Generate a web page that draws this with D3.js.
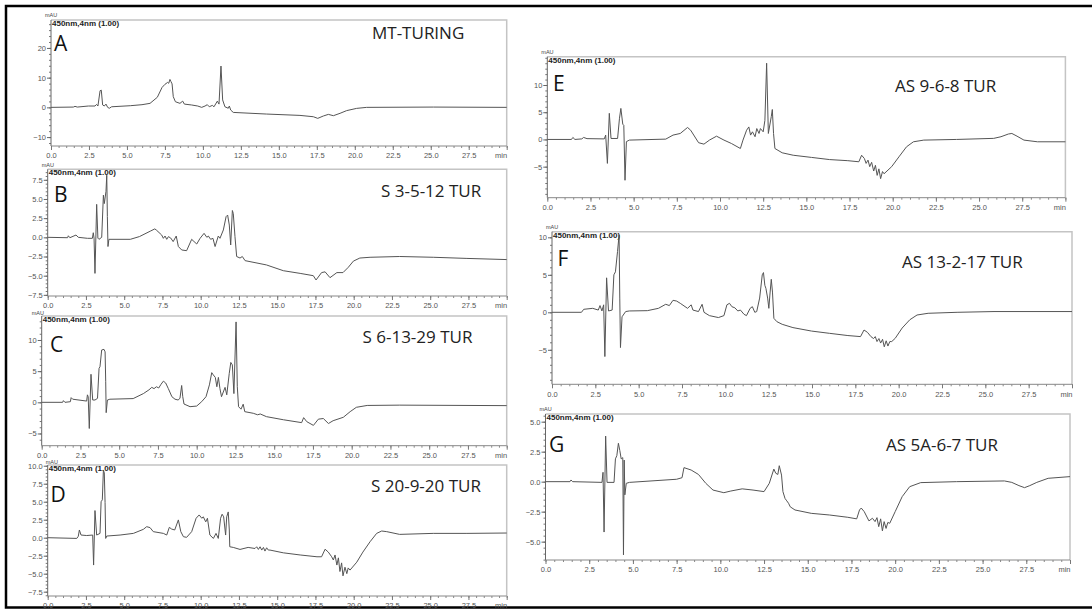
<!DOCTYPE html>
<html>
<head>
<meta charset="utf-8">
<script src="https://cdn.jsdelivr.net/npm/d3@7"></script>
<style>
  body { margin: 0; background: #fff; }
  svg { display: block; }
</style>
</head>
<body>
<div id="chart"></div>
<script>
// retention time (min), absorbance (mAU)
const traceA = [[0,0],[1.47,0.1],[1.58,0.34],[1.73,0.1],[2.46,0.45],[2.9,0.45],[3.0,1.0],[3.09,0.45],[3.23,5.6],[3.31,5.8],[3.4,0.8],[3.51,0.45],[3.62,1.1],[3.73,0],[3.84,-0.3],[3.99,0.2],[5.22,0.56],[5.99,0.9],[6.52,1.35],[7.0,3.4],[7.31,6.7],[7.5,7.75],[7.68,8.4],[7.75,8.1],[7.83,9.4],[7.9,8.65],[7.97,7.9],[8.05,3.6],[8.19,1.9],[8.49,1.35],[8.67,2.1],[8.78,1.1],[9.26,0.8],[9.66,0.45],[9.92,0],[10.14,0.45],[10.29,0.9],[10.42,0.2],[10.62,0.67],[10.73,0.2],[10.95,2.1],[11.06,1.1],[11.19,13.9],[11.3,2.5],[11.45,0.2],[11.67,-0.3],[11.74,0.45],[11.83,-0.9],[12.0,-1.7],[14.2,-2.25],[16.39,-2.7],[17.27,-3.15],[17.56,-3.7],[17.93,-2.9],[18.26,-2.36],[18.59,-2.8],[19.03,-2.0],[19.46,-1.1],[20.12,-0.34],[20.78,0],[25.17,0.1],[30,0]];

const traceB = [[0,0],[1.3,-0.05],[1.35,0.2],[1.45,-0.05],[1.85,0.3],[2.0,0.0],[2.6,-0.13],[2.92,-0.13],[2.98,0.6],[3.03,-0.1],[3.09,-4.7],[3.2,4.3],[3.28,-0.1],[3.35,-0.26],[3.53,0],[3.64,5.5],[3.7,4.4],[3.81,6.0],[3.86,8.1],[3.9,2.7],[3.94,-1.2],[4.0,-0.26],[5.4,-0.26],[6.0,0.1],[6.7,0.8],[7.0,1.1],[7.1,0.95],[7.45,0.3],[7.56,-0.13],[7.67,0.17],[7.78,-0.26],[7.89,0.09],[8.04,-0.09],[8.2,-0.56],[8.4,0.17],[8.54,-1.2],[8.76,-1.65],[9.08,-1.74],[9.41,-0.26],[9.5,-0.43],[9.74,-0.87],[9.96,-0.13],[10.22,0.52],[10.4,0],[10.5,0.17],[10.65,-0.26],[10.8,-0.13],[10.94,-1.2],[11.15,0.17],[11.26,-0.13],[11.48,0.96],[11.66,2.7],[11.76,2.9],[11.87,1.6],[11.96,-1.0],[12.07,3.5],[12.13,3.1],[12.24,0.1],[12.35,-2.5],[12.57,-2.7],[12.72,-2.5],[12.9,-3.04],[14.3,-3.6],[15.4,-4.35],[16.5,-4.7],[17.36,-5.0],[17.54,-5.56],[17.9,-4.6],[18.13,-4.5],[18.45,-5.26],[18.9,-4.6],[19.3,-4.6],[19.65,-3.9],[19.98,-3.1],[20.4,-2.7],[21.07,-2.6],[23.0,-2.5],[25.2,-2.6],[27.4,-2.75],[30,-2.9]];

const traceC = [[0,0],[1.35,0],[1.4,0.27],[1.5,0],[1.85,0.1],[1.9,0.75],[2.0,0.5],[2.9,0.2],[2.95,1.2],[3.0,0.9],[3.07,-4.2],[3.18,4.5],[3.29,0.37],[3.44,0.37],[3.6,0.64],[3.7,5.45],[3.76,5.7],[3.87,8.4],[4.02,8.5],[4.09,8.1],[4.13,3.3],[4.16,-1.66],[4.24,0.37],[4.4,0.5],[5.9,0.6],[6.56,1.4],[6.92,2.0],[7.1,2.4],[7.25,2.2],[7.4,2.5],[7.55,2.3],[7.7,2.9],[7.85,3.4],[8.0,3.1],[8.17,2.2],[8.4,0.9],[8.6,0.5],[8.8,0.37],[8.92,0.64],[9.03,2.7],[9.1,0.9],[9.18,-0.27],[9.57,-0.7],[10.0,-0.6],[10.32,0.1],[10.6,0.9],[10.82,2.8],[10.97,4.76],[11.07,4.4],[11.2,4.0],[11.3,2.5],[11.4,4.0],[11.5,2.2],[11.6,0.9],[11.83,2.4],[11.94,1.2],[12.1,4.65],[12.2,6.4],[12.3,6.0],[12.4,1.4],[12.54,12.9],[12.62,2.5],[12.7,-0.7],[12.86,-1.1],[13.0,-0.3],[13.1,-1.5],[13.65,-1.76],[13.93,-2.0],[14.1,-1.87],[14.5,-2.3],[15.6,-2.8],[16.77,-3.26],[16.9,-2.46],[17.1,-3.1],[17.53,-3.7],[17.85,-2.7],[18.17,-2.6],[18.5,-3.4],[18.8,-2.95],[19.46,-2.4],[19.9,-1.5],[20.3,-0.8],[21.0,-0.5],[23.1,-0.45],[30,-0.53]];

const traceD = [[0,0],[1.9,-0.1],[2.0,0.2],[2.07,1.07],[2.18,0.37],[2.55,0.3],[2.94,0.37],[3.0,-3.8],[3.09,3.77],[3.2,0.37],[3.42,0.6],[3.49,5.0],[3.57,5.26],[3.64,9.4],[3.7,9.0],[3.75,4.9],[3.79,-0.1],[3.86,0.23],[4.73,0.37],[5.6,0.6],[6.25,1.16],[6.47,1.53],[6.69,1.4],[6.9,0.84],[7.56,0.6],[7.78,0.37],[7.95,1.44],[8.1,1.2],[8.3,1.07],[8.54,2.47],[8.7,0.84],[8.87,0.14],[9.08,0.05],[9.41,0.84],[9.7,2.7],[9.9,3.16],[10.07,2.7],[10.17,2.9],[10.33,2.2],[10.44,2.7],[10.6,0.37],[10.83,-0.1],[11.0,0.6],[11.15,-0.1],[11.3,2.7],[11.4,3.26],[11.5,2.9],[11.63,0.37],[11.7,2.9],[11.8,3.58],[11.87,1.07],[11.9,-1.26],[12.13,-1.35],[12.57,-1.63],[13.1,-1.35],[13.55,-1.5],[13.66,-1.26],[13.77,-1.63],[13.88,-1.26],[13.99,-1.72],[14.1,-1.35],[14.2,-1.86],[14.31,-1.4],[14.42,-1.72],[14.53,-1.72],[15.4,-2.1],[16.5,-2.4],[17.6,-2.65],[17.9,-2.65],[18.13,-1.6],[18.34,-2.0],[18.56,-2.65],[18.67,-3.1],[18.78,-2.4],[18.9,-3.8],[19.0,-2.8],[19.1,-4.7],[19.21,-3.5],[19.3,-5.3],[19.43,-4.1],[19.55,-5.0],[19.64,-4.2],[19.76,-4.5],[20.2,-3.4],[20.6,-2.0],[21.07,-0.56],[21.5,0.6],[21.83,0.93],[22.16,0.84],[23.0,0.46],[25.2,0.6],[27.4,0.6],[30,0.65]];

const traceE = [[0,0],[1.4,0],[1.48,0.37],[1.6,0],[2.0,0.1],[2.1,0.37],[2.3,0.15],[3.3,0.1],[3.38,0.8],[3.48,-4.4],[3.59,4.8],[3.69,0.18],[4.07,0.18],[4.18,3.9],[4.26,5.7],[4.37,2.8],[4.43,2.6],[4.5,-7.5],[4.58,-0.4],[4.75,-0.12],[6.86,0.06],[7.28,0.8],[7.7,1.1],[8.12,2.2],[8.3,1.7],[8.76,-0.6],[9.07,-0.86],[9.39,-0.12],[9.8,0.6],[10.23,-0.12],[10.66,-0.74],[11.18,-1.66],[11.33,-0.12],[11.54,1.7],[11.67,2.3],[11.77,0.8],[11.88,1.4],[12.03,0.5],[12.13,2.0],[12.26,1.1],[12.34,2.0],[12.5,1.4],[12.6,3.5],[12.7,14.0],[12.8,1.1],[12.97,4.2],[13.03,5.5],[13.1,1.1],[13.18,-1.66],[13.6,-2.45],[14.24,-2.9],[15.3,-3.3],[16.35,-3.7],[17.4,-3.9],[18.04,-4.1],[18.2,-2.9],[18.36,-3.5],[18.46,-4.4],[18.57,-3.8],[18.67,-5.0],[18.78,-4.2],[18.9,-5.8],[19.0,-4.75],[19.1,-6.6],[19.2,-5.4],[19.3,-7.2],[19.41,-5.9],[19.5,-6.3],[19.94,-5.0],[20.36,-3.2],[20.8,-1.35],[21.2,-0.43],[21.8,-0.12],[23.7,0],[25.85,0.2],[26.27,0.5],[26.7,1.0],[26.9,1.1],[27.2,0.6],[27.6,-0.12],[28.38,-0.43],[30,-0.43]];

const traceF = [[0,0],[1.7,0],[1.83,0.4],[2.35,0.53],[2.67,0.3],[2.77,0.9],[2.88,0.18],[2.98,1.0],[3.05,-5.9],[3.15,4.6],[3.26,0.18],[3.47,0.3],[3.57,5.0],[3.66,5.4],[3.78,8.1],[3.87,10.3],[3.91,1.9],[3.95,-4.7],[4.04,-0.6],[4.25,0.1],[4.46,0.18],[5.5,0.22],[6.14,0.53],[6.56,1.07],[6.77,0.9],[6.98,1.6],[7.19,1.5],[7.4,1.2],[7.82,0.53],[8.03,1.0],[8.13,0.3],[8.45,0.1],[8.66,1.07],[8.77,0],[9.08,-0.44],[9.6,-0.7],[9.92,-0.44],[10.09,1.0],[10.24,1.2],[10.38,0.75],[10.55,0.6],[10.72,0.18],[10.87,0.3],[11.08,-0.27],[11.22,-0.44],[11.43,0.53],[11.56,0.75],[11.7,0],[11.81,0.1],[11.98,1.9],[12.13,5.0],[12.2,5.3],[12.28,3.6],[12.34,3.2],[12.44,1.9],[12.51,0.53],[12.57,2.3],[12.65,4.4],[12.72,2.7],[12.8,-0.8],[12.97,-1.24],[13.28,-1.6],[13.9,-2.04],[14.97,-2.5],[16.0,-2.8],[17.07,-3.1],[17.8,-3.24],[18.0,-2.36],[18.2,-2.67],[18.4,-3.24],[18.55,-3.5],[18.65,-3.24],[18.75,-3.9],[18.86,-3.5],[18.96,-4.1],[19.07,-3.6],[19.17,-4.6],[19.28,-3.8],[19.38,-4.5],[19.49,-3.9],[19.6,-3.9],[19.8,-3.47],[20.2,-2.1],[20.64,-1.0],[21.06,-0.36],[21.7,-0.13],[23.37,0],[25.5,0.1],[30,0.1]];

const traceG = [[0,0],[1.4,0],[1.46,0.14],[1.55,0],[3.23,-0.06],[3.29,0.78],[3.35,-4.2],[3.44,3.8],[3.52,-0.06],[3.92,-0.06],[4.0,1.9],[4.08,2.17],[4.17,3.2],[4.25,2.6],[4.33,1.9],[4.42,2.0],[4.46,-6.1],[4.5,1.8],[4.54,-1.1],[4.62,-0.14],[4.8,-0.06],[7.5,0.2],[7.81,0.33],[7.92,1.17],[8.33,0.97],[8.75,0.6],[9.17,-0.14],[9.58,-0.7],[10.2,-0.92],[10.6,-0.78],[11.25,-0.6],[11.87,-0.7],[12.5,-0.83],[12.8,-0.14],[13.06,1.05],[13.17,0.7],[13.29,0.6],[13.37,1.33],[13.5,0.55],[13.58,-0.83],[13.7,-1.4],[13.8,-1.6],[13.9,-1.8],[14.0,-2.1],[14.27,-2.36],[15.2,-2.64],[16.25,-2.78],[17.29,-2.97],[17.8,-3.1],[17.96,-2.36],[18.06,-2.2],[18.23,-2.5],[18.5,-3.27],[18.7,-3.05],[18.85,-3.33],[18.96,-3.0],[19.06,-3.75],[19.17,-3.1],[19.27,-4.1],[19.37,-3.33],[19.48,-3.9],[19.58,-3.4],[19.69,-3.47],[20.0,-2.5],[20.4,-1.25],[20.83,-0.42],[21.46,-0.08],[23.5,0],[26.25,0.06],[26.67,-0.06],[27.08,-0.33],[27.4,-0.5],[27.7,-0.33],[28.1,-0.06],[28.75,0.28],[30,0.42]];

// axis ticks
const xTicks = [0, 2.5, 5, 7.5, 10, 12.5, 15, 17.5, 20, 22.5, 25, 27.5];
const yTicksA = [-10, 0, 10, 20];
const yTicksB = [-7.5, -5, -2.5, 0, 2.5, 5, 7.5];
const yTicksC = [-5, 0, 5, 10];
const yTicksD = [-7.5, -5, -2.5, 0, 2.5, 5, 7.5, 10];
const yTicksE = [-5, 0, 5, 10];
const yTicksF = [-5, 0, 5, 10];
const yTicksG = [-5, -2.5, 0, 2.5, 5];

const letters = ["A", "B", "C", "D", "E", "F", "G"];
const titles = ["MT-TURING", "S 3-5-12 TUR", "S 6-13-29 TUR", "S 20-9-20 TUR",
                "AS 9-6-8 TUR", "AS 13-2-17 TUR", "AS 5A-6-7 TUR"];

const width = 1092, height = 610;

// layout of each panel (plot box in px, y range, label spots)
const panels = [
  {data: traceA, yt: yTicksA, minor: 2,   fmt: "d",   box: [51, 20, 506.7, 146],   ydom: [-13, 29.4],    let: [54, 51],  tit: [372, 39], mau: [-6, -3]},
  {data: traceB, yt: yTicksB, minor: 0.5, fmt: ".1f", box: [47.7, 169.3, 506.7, 296], ydom: [-7.65, 8.87], let: [54, 201.5], tit: [381, 196.5], mau: [-6, -2]},
  {data: traceC, yt: yTicksC, minor: 1,   fmt: "d",   box: [41.7, 316, 506.7, 445.7], ydom: [-6.96, 13.85], let: [50, 351.5], tit: [362.5, 343], mau: [-10, -1.5]},
  {data: traceD, yt: yTicksD, minor: 0.5, fmt: ".1f", box: [47.7, 465, 506.7, 596],   ydom: [-8.1, 10.1],   let: [50.5, 501.5], tit: [371, 491.5], mau: [-2, -1.5]},
  {data: traceE, yt: yTicksE, minor: 1,   fmt: "d",   box: [547.3, 56.7, 1065.4, 197.7], ydom: [-10.7, 15.2], let: [553, 90.5], tit: [895, 92], mau: [-6, -3]},
  {data: traceF, yt: yTicksF, minor: 1,   fmt: "d",   box: [552, 231.7, 1072, 384.3],   ydom: [-9.6, 10.75], let: [557.5, 265.5], tit: [902, 267.5], mau: [-6, -3]},
  {data: traceG, yt: yTicksG, minor: 0.5, fmt: ".1f", box: [545.5, 414, 1070, 560],     ydom: [-6.53, 5.64], let: [549, 451.5], tit: [886, 451], mau: [-6, -3]}
];

const svg = d3.select("#chart").append("svg")
  .attr("width", width)
  .attr("height", height);

svg.append("rect").attr("width", width).attr("height", height).attr("fill", "#fff");

// figure border (right edge runs off the picture)
svg.append("rect")
  .attr("x", 6).attr("y", 6)
  .attr("width", 1110).attr("height", 601.5)
  .attr("fill", "none")
  .attr("stroke", "#000")
  .attr("stroke-width", 2.5);

panels.forEach(function (p, i) {
  const [x0, y0, x1, y1] = p.box;
  const x = d3.scaleLinear().domain([0, 30]).range([x0, x1]);
  const y = d3.scaleLinear().domain(p.ydom).range([y1, y0]);
  const g = svg.append("g");

  // light frame on top and right
  g.append("path")
    .attr("d", `M${x0},${y0}H${x1}V${y1}`)
    .attr("fill", "none")
    .attr("stroke", "#c4c4c4")
    .attr("stroke-width", 1.5);

  // minor ticks
  const yMinor = d3.range(Math.ceil(p.ydom[0] / p.minor) * p.minor, p.ydom[1], p.minor);
  const xMinor = d3.range(0, 30.01, 0.5);

  g.append("g")
    .attr("transform", `translate(${x0},0)`)
    .call(d3.axisLeft(y).tickValues(yMinor).tickSize(2).tickFormat(""))
    .call(s => s.select(".domain").remove())
    .selectAll("line").attr("stroke", "#777");

  g.append("g")
    .attr("transform", `translate(0,${y1})`)
    .call(d3.axisBottom(x).tickValues(xMinor).tickSize(2).tickFormat(""))
    .call(s => s.select(".domain").remove())
    .selectAll("line").attr("stroke", "#888");

  // major ticks with labels
  const ya = g.append("g")
    .attr("transform", `translate(${x0},0)`)
    .call(d3.axisLeft(y).tickValues(p.yt).tickSize(4).tickPadding(1).tickFormat(d3.format(p.fmt)));
  ya.select(".domain").attr("d", `M0,${y0}V${y1}`).attr("stroke", "#666");
  ya.selectAll("line").attr("stroke", "#666");
  ya.selectAll("text")
    .attr("fill", "#555")
    .style("font-family", "Liberation Sans, Arial, sans-serif")
    .style("font-size", "7.5px");

  const xa = g.append("g")
    .attr("transform", `translate(0,${y1})`)
    .call(d3.axisBottom(x).tickValues(xTicks.concat([30])).tickSize(4).tickPadding(3)
      .tickFormat(d => d === 30 ? "min" : d3.format(".1f")(d)));
  xa.select(".domain").attr("d", `M${x0},0H${x1}`).attr("stroke", "#888");
  xa.selectAll("line").attr("stroke", "#777");
  xa.selectAll("text")
    .attr("fill", "#555")
    .style("font-family", "Liberation Sans, Arial, sans-serif")
    .style("font-size", "7.5px");
  xa.selectAll(".tick").filter(d => d === 30).select("text").attr("text-anchor", "end").attr("dx", 0);

  // header texts
  g.append("text")
    .attr("x", x0 + p.mau[0]).attr("y", y0 + p.mau[1])
    .attr("fill", "#444")
    .style("font-family", "Liberation Sans, Arial, sans-serif")
    .style("font-size", "5.5px")
    .text("mAU");

  g.append("text")
    .attr("x", x0 + 1).attr("y", y0 + 6)
    .attr("fill", "#222")
    .style("font-family", "Liberation Sans, Arial, sans-serif")
    .style("font-size", "8px")
    .style("font-weight", "bold")
    .text("450nm,4nm (1.00)");

  g.append("text")
    .attr("x", p.let[0]).attr("y", p.let[1])
    .attr("fill", "#111")
    .style("font-family", "Open Sans, sans-serif")
    .style("font-size", "21px")
    .text(letters[i]);

  g.append("text")
    .attr("x", p.tit[0]).attr("y", p.tit[1])
    .attr("fill", "#222")
    .style("font-family", "Open Sans, sans-serif")
    .style("font-size", "17px")
    .text(titles[i]);

  // the chromatogram
  const line = d3.line()
    .x(d => x(d[0]))
    .y(d => y(d[1]));

  g.append("path")
    .datum(p.data)
    .attr("d", line)
    .attr("fill", "none")
    .attr("stroke", "#555")
    .attr("stroke-width", 1)
    .attr("stroke-linejoin", "round");
});
</script>
</body>
</html>
